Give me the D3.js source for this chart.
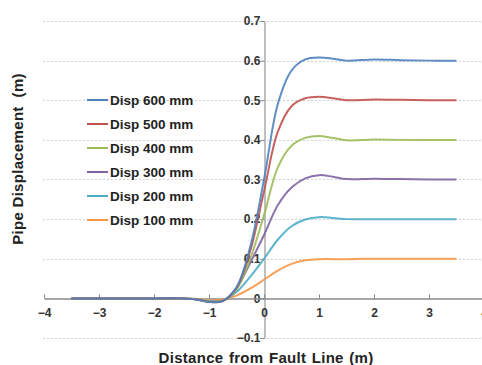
<!DOCTYPE html>
<html>
<head>
<meta charset="utf-8">
<script src="https://cdn.jsdelivr.net/npm/d3@7"></script>
<style>
  body { margin: 0; background: #fff; }
  svg { display: block; font-family: "Liberation Sans", Arial, sans-serif; }
</style>
</head>
<body>
<div id="chart"></div>
<script>
// distance from fault line (m)
const distance = [-3.5, -3, -2.5, -2, -1.5, -1.25, -1, -0.75, -0.5, -0.25, 0, 0.25, 0.5, 0.75, 1, 1.25, 1.5, 2, 2.5, 3, 3.5];

// pipe displacement (m) per imposed fault displacement
const disp600 = [0, 0, 0, 0, 0, -0.002, -0.009, -0.007, 0.028, 0.13, 0.30, 0.49, 0.575, 0.603, 0.608, 0.605, 0.600, 0.603, 0.601, 0.600, 0.600];
const disp500 = [0, 0, 0, 0, 0, -0.002, -0.009, -0.007, 0.026, 0.12, 0.27, 0.42, 0.485, 0.505, 0.509, 0.505, 0.500, 0.502, 0.501, 0.500, 0.500];
const disp400 = [0, 0, 0, 0, 0, -0.002, -0.008, -0.006, 0.022, 0.10, 0.21, 0.33, 0.385, 0.405, 0.410, 0.405, 0.399, 0.401, 0.400, 0.400, 0.400];
const disp300 = [0, 0, 0, 0, 0, -0.002, -0.008, -0.006, 0.026, 0.09, 0.16, 0.235, 0.28, 0.303, 0.311, 0.307, 0.301, 0.302, 0.301, 0.300, 0.300];
const disp200 = [0, 0, 0, 0, 0, -0.002, -0.007, -0.005, 0.016, 0.055, 0.10, 0.148, 0.182, 0.199, 0.205, 0.203, 0.200, 0.200, 0.200, 0.200, 0.200];
const disp100 = [0, 0, 0, 0, 0, -0.001, -0.005, -0.003, 0.007, 0.025, 0.047, 0.07, 0.087, 0.096, 0.099, 0.099, 0.099, 0.100, 0.100, 0.100, 0.100];

const seriesNames = ['Disp 600 mm', 'Disp 500 mm', 'Disp 400 mm', 'Disp 300 mm', 'Disp 200 mm', 'Disp 100 mm'];
const seriesValues = [disp600, disp500, disp400, disp300, disp200, disp100];
const seriesColors = ['#4F81BD', '#C0504D', '#9BBB59', '#8064A2', '#4BACC6', '#F79646'];

const xTicks = [-4, -3, -2, -1, 0, 1, 2, 3, 4];
const yTicks = [-0.1, 0, 0.1, 0.2, 0.3, 0.4, 0.5, 0.6, 0.7];

const width = 482;
const height = 365;

const svg = d3.select('#chart').append('svg')
  .attr('width', width)
  .attr('height', height);

const x = d3.scaleLinear().domain([-4, 4]).range([44, 484]);
const y = d3.scaleLinear().domain([-0.1, 0.7]).range([338, 21]);

// Grid lines
svg.append('g')
  .selectAll('line')
  .data(yTicks.filter((d) => d !== 0))
  .join('line')
  .attr('x1', x(-4) - 1)
  .attr('x2', width)
  .attr('y1', (d) => Math.round(y(d)) + 0.5)
  .attr('y2', (d) => Math.round(y(d)) + 0.5)
  .attr('stroke', '#d0d0d0')
  .attr('stroke-dasharray', '2,2')
  .attr('stroke-width', 1);

// Y axis at x = 0
const yAxis = svg.append('g')
  .attr('transform', `translate(${Math.round(x(0)) + 0.5},0)`)
  .call(d3.axisLeft(y)
    .tickValues(yTicks)
    .tickFormat((d) => (d === 0 ? '0' : d3.format('.1f')(d)))
    .tickSize(4)
    .tickSizeOuter(0));

// X axis at y = 0
const xAxis = svg.append('g')
  .attr('transform', `translate(0,${Math.round(y(0)) + 0.5})`)
  .call(d3.axisBottom(x)
    .tickValues(xTicks)
    .tickFormat(d3.format('d'))
    .tickSize(-4)
    .tickSizeOuter(0));

yAxis.select('.domain').attr('stroke', '#aaaaaa').attr('stroke-width', 1.5);
xAxis.select('.domain').attr('stroke', '#888888').attr('stroke-width', 1.5);
[xAxis, yAxis].forEach((ax) => {
  ax.selectAll('.tick line').attr('stroke', '#888888');
  ax.selectAll('.tick text')
    .attr('fill', '#333')
    .style('font-size', '12px')
    .style('font-weight', 'bold');
});
yAxis.selectAll('.tick text').attr('x', -4);
xAxis.selectAll('.tick text').attr('y', 10);

// Lines
const line = d3.line()
  .x((d) => x(d[0]))
  .y((d) => y(d[1]))
  .curve(d3.curveCatmullRom.alpha(0.5));

seriesValues.slice().reverse().forEach((vals, i) => {
  const idx = seriesValues.length - 1 - i;
  svg.append('path')
    .datum(distance.map((d, j) => [d, vals[j]]))
    .attr('fill', 'none')
    .attr('stroke', seriesColors[idx])
    .attr('stroke-width', 2)
    .attr('stroke-opacity', 0.9)
    .attr('stroke-linejoin', 'round')
    .attr('d', line);
});

// Legend
const legend = svg.append('g').attr('transform', 'translate(87,100)');
seriesNames.forEach((name, i) => {
  const g = legend.append('g').attr('transform', `translate(0,${i * 24})`);
  g.append('line')
    .attr('x1', 0).attr('x2', 21)
    .attr('y1', 0).attr('y2', 0)
    .attr('stroke', seriesColors[i])
    .attr('stroke-width', 2);
  g.append('text')
    .attr('x', 23)
    .attr('y', 5)
    .attr('fill', '#222')
    .style('font-size', '13.5px')
    .style('font-weight', 'bold')
    .text(name);
});

// Axis titles
svg.append('text')
  .attr('x', 266)
  .attr('y', 363)
  .attr('text-anchor', 'middle')
  .attr('fill', '#222')
  .style('font-size', '15px')
  .style('font-weight', 'bold')
  .style('letter-spacing', '0.3px')
  .style('word-spacing', '1px')
  .text('Distance from Fault Line (m)');

svg.append('text')
  .attr('transform', 'translate(23,159) rotate(-90)')
  .attr('text-anchor', 'middle')
  .attr('fill', '#222')
  .style('font-size', '15px')
  .style('font-weight', 'bold')
  .style('letter-spacing', '0.3px')
  .style('white-space', 'pre')
  .text('Pipe Displacement  (m)');
</script>
</body>
</html>
